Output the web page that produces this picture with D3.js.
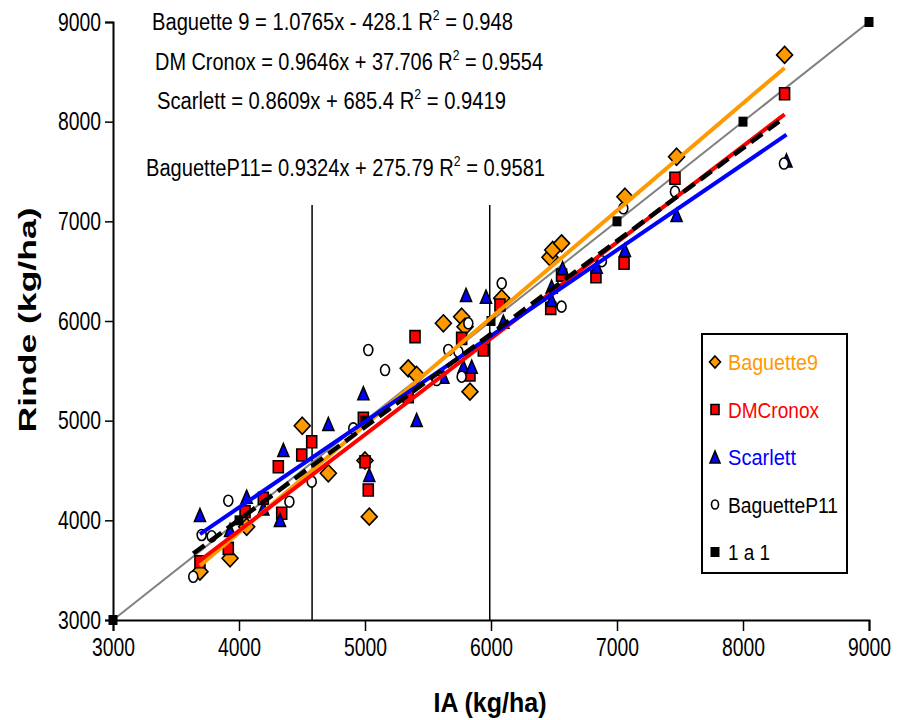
<!DOCTYPE html>
<html>
<head>
<meta charset="utf-8">
<script src="https://cdn.jsdelivr.net/npm/d3@7/dist/d3.min.js"></script>
<style>
  html, body { margin: 0; padding: 0; background: #fff; }
  svg { display: block; }
  text { font-family: "Liberation Sans", Arial, sans-serif; }
</style>
</head>
<body>
<svg id="chart" width="897" height="720"></svg>
<script>
// Grain yield (Rinde) of four cultivars against the site's environmental index (IA), kg/ha.
const baguette9 = [
  [3690, 3485], [3929, 3619], [4061, 3936], [4502, 4949], [4709, 4472],
  [5000, 4600], [5034, 4037], [5343, 5525], [5410, 5458], [5622, 5977],
  [5767, 6043], [5794, 5943], [5833, 5291], [6085, 6228], [6468, 6640],
  [6490, 6712], [6560, 6779], [7063, 7247], [7473, 7648], [8330, 8670]
];
const dmCronox = [
  [3690, 3585], [3915, 3719], [4048, 4087], [4193, 4220], [4312, 4538],
  [4339, 4071], [4498, 4655], [4577, 4789], [4987, 5024], [5000, 4588],
  [5026, 4304], [5343, 5240], [5397, 5843], [5767, 5826], [5833, 5458],
  [5939, 5709], [6071, 6160], [6474, 6127], [6560, 6460], [6833, 6444],
  [7056, 6579], [7460, 7432], [8330, 8280]
];
const scarlett = [
  [3690, 4053], [3929, 3903], [4061, 4237], [4193, 4120], [4325, 4003],
  [4352, 4706], [4709, 4966], [4987, 5275], [5034, 4455], [5410, 5006],
  [5622, 5441], [5781, 5541], [5802, 6261], [5847, 5541], [5960, 6244],
  [6098, 5993], [6481, 6344], [6481, 6211], [6568, 6529], [6839, 6545],
  [7063, 6712], [7473, 7063], [8345, 7610]
];
const baguetteP11 = [
  [3637, 3434], [3704, 3853], [3783, 3840], [3915, 4197], [4400, 4187],
  [4577, 4388], [4907, 4923], [5026, 5709], [5159, 5508], [5569, 5408],
  [5661, 5709], [5741, 5692], [5767, 5441], [5820, 5977], [6085, 6378],
  [6560, 6144], [6880, 6600], [7050, 7131], [7460, 7298], [8325, 7580]
];
const oneToOne = [3000, 4000, 5000, 6000, 7000, 8000, 9000];

// Fitted linear trends: slope, intercept, R²
const trendNames = ["Baguette 9", "DM Cronox", "Scarlett", "BaguetteP11"];
const trendSlopes = [1.0765, 0.9646, 0.8609, 0.9324];
const trendIntercepts = [-428.1, 37.706, 685.4, 275.79];
const trendR2 = ["0.948", "0.9554", "0.9419", "0.9581"];

// Reference lines of IA
const iaCuts = [4580, 5990];

const xTicks = [3000, 4000, 5000, 6000, 7000, 8000, 9000];
const yTicks = [3000, 4000, 5000, 6000, 7000, 8000, 9000];

const ORANGE = "#FF9900", RED = "#FF0000", BLUE = "#0000FF";

const svg = d3.select("#chart");
const x = d3.scaleLinear().domain([3000, 9000]).range([113, 869]);
const y = d3.scaleLinear().domain([3000, 9000]).range([620, 22]);

// marker shapes centred on 0,0
const shapes = {
  diamond: (w, h) => `M0,${-h/2}L${w/2},0L0,${h/2}L${-w/2},0Z`,
  square: (w, h) => `M${-w/2},${-h/2}h${w}v${h}h${-w}Z`,
  triangle: (w, h) => `M0,${-h/2}L${w/2},${h/2}L${-w/2},${h/2}Z`,
  circle: (w, h) => `M${-w/2},0a${w/2},${h/2} 0 1,0 ${w},0a${w/2},${h/2} 0 1,0 ${-w},0Z`
};

// IA reference verticals
svg.append("g").selectAll("line").data(iaCuts).join("line")
  .attr("x1", d => x(d)).attr("x2", d => x(d))
  .attr("y1", 205).attr("y2", y(3000))
  .attr("stroke", "#000").attr("stroke-width", 1.5);

// 1:1 line
svg.append("line")
  .attr("x1", x(3000)).attr("y1", y(3000))
  .attr("x2", x(9000)).attr("y2", y(9000))
  .attr("stroke", "#808080").attr("stroke-width", 2);

// Axes
const xAxis = svg.append("g").attr("transform", `translate(0,${y(3000)})`)
  .call(d3.axisBottom(x).tickValues(xTicks).tickSize(11).tickPadding(7).tickFormat(d3.format("d")));
const yAxis = svg.append("g").attr("transform", `translate(${x(3000)},0)`)
  .call(d3.axisLeft(y).tickValues(yTicks).tickSize(8).tickPadding(4).tickFormat(d3.format("d")));
[xAxis, yAxis].forEach(g => {
  g.select(".domain").attr("stroke", "#000").attr("stroke-width", 2);
  g.selectAll(".tick line").attr("stroke", "#000").attr("stroke-width", 1.5);
  g.selectAll(".tick text").attr("fill", "#000").attr("font-size", 25)
    .attr("font-family", "Liberation Sans, Arial, sans-serif")
    .attr("textLength", 43).attr("lengthAdjust", "spacingAndGlyphs");
});
xAxis.selectAll(".tick text").attr("dy", "0.71em");

// Series markers
function drawSeries(data, shape, w, h, fill) {
  svg.append("g").selectAll("path").data(data).join("path")
    .attr("d", shapes[shape](w, h))
    .attr("transform", d => `translate(${x(d[0])},${y(d[1])})`)
    .attr("fill", fill).attr("stroke", "#000").attr("stroke-width", 1.6);
}
drawSeries(baguette9, "diamond", 16, 17, ORANGE);
drawSeries(dmCronox, "square", 10, 12, RED);
drawSeries(scarlett, "triangle", 11, 13, BLUE);
drawSeries(baguetteP11, "circle", 9, 11, "#fff");
svg.append("g").selectAll("path").data(oneToOne).join("path")
  .attr("d", shapes.square(9, 10))
  .attr("transform", d => `translate(${x(d)},${y(d)})`)
  .attr("fill", "#000");

// Trend lines over each series' IA range
const seriesData = [baguette9, dmCronox, scarlett, baguetteP11];
const trendColors = [ORANGE, RED, BLUE, "#000"];
seriesData.forEach((data, i) => {
  const [x0, x1] = d3.extent(data, d => d[0]);
  const f = v => trendSlopes[i] * v + trendIntercepts[i];
  svg.append("line")
    .attr("x1", x(x0)).attr("y1", y(f(x0)))
    .attr("x2", x(x1)).attr("y2", y(f(x1)))
    .attr("stroke", trendColors[i])
    .attr("stroke-width", i === 3 ? 4.5 : 4)
    .attr("stroke-dasharray", i === 3 ? "14,7" : null);
});

// Trend equations
const eqPos = [[152, 30, 361], [155, 70, 388], [157, 109, 349], [146, 176, 399]];
trendNames.forEach((name, i) => {
  const b = trendIntercepts[i];
  const sep = name === "BaguetteP11" ? "= " : " = ";
  const sign = b < 0 ? " - " : " + ";
  const t = svg.append("text")
    .attr("x", eqPos[i][0]).attr("y", eqPos[i][1])
    .attr("font-size", 23).attr("fill", "#000")
    .attr("textLength", eqPos[i][2]).attr("lengthAdjust", "spacingAndGlyphs");
  t.append("tspan").text(`${name}${sep}${trendSlopes[i]}x${sign}${Math.abs(b)} R`);
  t.append("tspan").attr("font-size", 14).attr("dy", -10).text("2");
  t.append("tspan").attr("dy", 10).text(` = ${trendR2[i]}`);
});

// Axis titles
svg.append("text").attr("x", 490).attr("y", 712).attr("text-anchor", "middle")
  .attr("font-size", 27).attr("font-weight", "bold").attr("fill", "#000")
  .attr("textLength", 113).attr("lengthAdjust", "spacingAndGlyphs")
  .text("IA (kg/ha)");
svg.append("text").attr("transform", "translate(36,320) rotate(-90)")
  .attr("text-anchor", "middle")
  .attr("font-size", 24).attr("font-weight", "bold").attr("fill", "#000")
  .attr("textLength", 225).attr("lengthAdjust", "spacingAndGlyphs")
  .text("Rinde (kg/ha)");

// Legend
const legendItems = [
  { label: "Baguette9", shape: "diamond", w: 11, h: 12, fill: ORANGE, color: ORANGE, len: 90 },
  { label: "DMCronox", shape: "square", w: 8, h: 10, fill: RED, color: RED, len: 91 },
  { label: "Scarlett", shape: "triangle", w: 10, h: 12, fill: BLUE, color: BLUE, len: 68 },
  { label: "BaguetteP11", shape: "circle", w: 7, h: 9, fill: "#fff", color: "#000", len: 110 },
  { label: "1 a 1", shape: "square", w: 9, h: 10, fill: "#000", color: "#000", len: 42, noStroke: true }
];
const lg = svg.append("g");
lg.append("rect").attr("x", 702).attr("y", 334).attr("width", 145).attr("height", 239)
  .attr("fill", "#fff").attr("stroke", "#000").attr("stroke-width", 2);
const legendY = d3.scalePoint().domain(legendItems.map(d => d.label)).range([362, 552]);
legendItems.forEach(it => {
  const cy = legendY(it.label);
  lg.append("path").attr("d", shapes[it.shape](it.w, it.h))
    .attr("transform", `translate(715,${cy})`)
    .attr("fill", it.fill).attr("stroke", it.noStroke ? "none" : "#000").attr("stroke-width", 1.6);
  lg.append("text").attr("x", 728).attr("y", cy + 8)
    .attr("font-size", 22).attr("fill", it.color)
    .attr("textLength", it.len).attr("lengthAdjust", "spacingAndGlyphs")
    .text(it.label);
});
</script>
</body>
</html>
